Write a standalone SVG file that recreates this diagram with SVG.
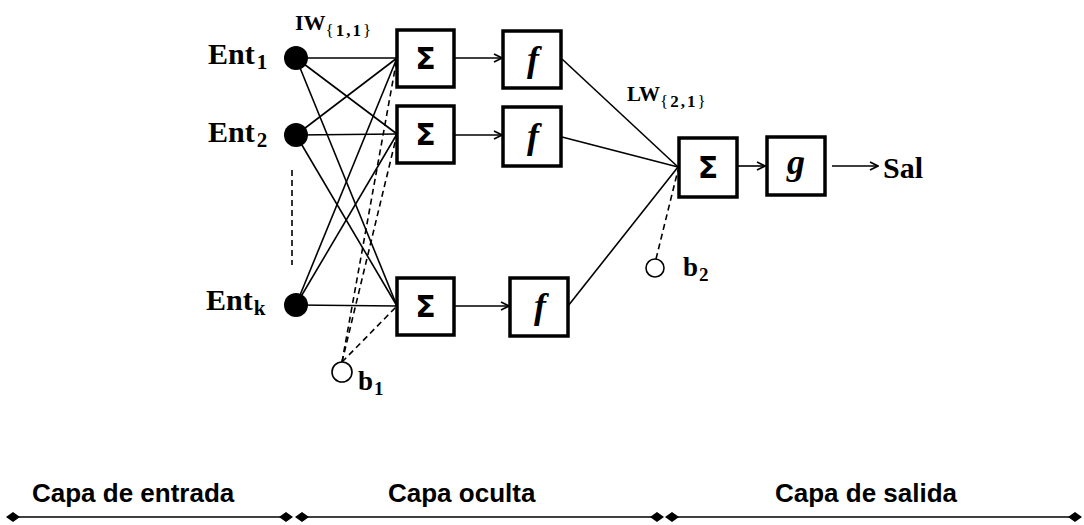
<svg xmlns="http://www.w3.org/2000/svg" width="1084" height="525" viewBox="0 0 1084 525">
<style>
.box{fill:#fff;stroke:#000;stroke-width:3.5}
.ln{stroke:#000;stroke-width:1.6;fill:none}
.dash{stroke:#000;stroke-width:1.6;fill:none;stroke-dasharray:6,4}
.lbl{font-family:"Liberation Serif",serif;font-weight:bold;fill:#000}
.sub{font-weight:normal;letter-spacing:2px}
.sig{font-family:"DejaVu Sans",sans-serif;font-weight:bold;font-size:30px;text-anchor:middle;fill:#000}
.fn{font-family:"Liberation Serif",serif;font-style:italic;font-weight:bold;font-size:36px;text-anchor:middle;fill:#000}
.cap{font-family:"Liberation Sans",Arial,sans-serif;font-weight:bold;font-size:26px;fill:#000}
</style>
<defs>
<marker id="arr" markerWidth="10" markerHeight="10" refX="9" refY="5" orient="auto" markerUnits="userSpaceOnUse">
<path d="M1,1 L9,5 L1,9" fill="none" stroke="#000" stroke-width="1.7"/>
</marker>
<marker id="dia" markerWidth="14" markerHeight="12" refX="7" refY="6" orient="auto" markerUnits="userSpaceOnUse">
<path d="M0,6 L7,1 L14,6 L7,11 Z" fill="#000"/>
</marker>
</defs>

<g id="connectors">
<line class="ln" x1="296" y1="58" x2="397" y2="58"/>
<line class="ln" x1="296" y1="58" x2="397" y2="134"/>
<line class="ln" x1="296" y1="58" x2="397" y2="306"/>
<line class="ln" x1="296" y1="135" x2="397" y2="58"/>
<line class="ln" x1="296" y1="135" x2="397" y2="134"/>
<line class="ln" x1="296" y1="135" x2="397" y2="306"/>
<line class="ln" x1="296" y1="305" x2="397" y2="58"/>
<line class="ln" x1="296" y1="305" x2="397" y2="134"/>
<line class="ln" x1="296" y1="305" x2="397" y2="306"/>
<line class="dash" x1="342" y1="362" x2="397" y2="58"/>
<line class="dash" x1="342" y1="362" x2="397" y2="134"/>
<line class="dash" x1="342" y1="362" x2="397" y2="306"/>
<line class="dash" x1="292" y1="170" x2="292" y2="265"/>
<line class="ln" x1="455" y1="58" x2="502" y2="58" marker-end="url(#arr)"/>
<line class="ln" x1="455" y1="135" x2="502" y2="135" marker-end="url(#arr)"/>
<line class="ln" x1="455" y1="306" x2="509" y2="306" marker-end="url(#arr)"/>
<line class="ln" x1="562" y1="59" x2="678" y2="167"/>
<line class="ln" x1="562" y1="137" x2="678" y2="167"/>
<line class="ln" x1="568" y1="306" x2="678" y2="167"/>
<line class="dash" x1="656" y1="259" x2="678" y2="170"/>
<line class="ln" x1="737" y1="166" x2="765" y2="166" marker-end="url(#arr)"/>
<line class="ln" x1="832" y1="166" x2="878" y2="166" marker-end="url(#arr)"/>
<line class="ln" x1="13" y1="517" x2="286" y2="517" stroke-width="2" marker-start="url(#dia)" marker-end="url(#dia)"/>
<line class="ln" x1="302" y1="517" x2="657" y2="517" stroke-width="2" marker-start="url(#dia)" marker-end="url(#dia)"/>
<line class="ln" x1="672" y1="517" x2="1075" y2="517" stroke-width="2" marker-start="url(#dia)" marker-end="url(#dia)"/>
</g>

<g id="in1"><circle cx="296" cy="58" r="12" fill="#000"/>
<text class="lbl" x="208" y="64" font-size="30">Ent<tspan font-size="21" dx="2" dy="5">1</tspan></text></g>
<g id="in2"><circle cx="296" cy="135" r="12" fill="#000"/>
<text class="lbl" x="208" y="142" font-size="30">Ent<tspan font-size="21" dx="2" dy="5">2</tspan></text></g>
<g id="ink"><circle cx="296" cy="305" r="12" fill="#000"/>
<text class="lbl" x="206" y="310" font-size="30">Ent<tspan font-size="21" dx="1" dy="5">k</tspan></text></g>

<g id="iw"><text class="lbl" x="295" y="30" font-size="22">IW<tspan class="sub" font-size="17" dy="6">{<tspan font-weight="bold">1,1</tspan>}</tspan></text></g>
<g id="lw"><text class="lbl" x="627" y="101" font-size="21">LW<tspan class="sub" font-size="17" dy="6">{<tspan font-weight="bold">2,1</tspan>}</tspan></text></g>

<g id="sum1"><rect class="box" x="397" y="30" width="57" height="57"/><text class="sig" x="425.5" y="69">Σ</text></g>
<g id="sum2"><rect class="box" x="397" y="106" width="57" height="57"/><text class="sig" x="425.5" y="145">Σ</text></g>
<g id="sum3"><rect class="box" x="397" y="278" width="57" height="57"/><text class="sig" x="425.5" y="317">Σ</text></g>

<g id="f1"><rect class="box" x="503" y="31" width="58" height="57"/><text class="fn" x="533" y="71">f</text></g>
<g id="f2"><rect class="box" x="503" y="107" width="58" height="59"/><text class="fn" x="533" y="148">f</text></g>
<g id="f3"><rect class="box" x="510" y="278" width="58" height="58"/><text class="fn" x="540" y="318">f</text></g>

<g id="b1"><circle cx="342" cy="372" r="10" fill="#fff" stroke="#000" stroke-width="1.6"/>
<text class="lbl" x="358" y="390" font-size="27">b<tspan font-size="19" dx="1" dy="5">1</tspan></text></g>

<g id="sumout"><rect class="box" x="679" y="138" width="58" height="59"/><text class="sig" x="708" y="178">Σ</text></g>
<g id="gbox"><rect class="box" x="767" y="137" width="58" height="58"/><text class="fn" x="796" y="174" font-weight="normal">g</text></g>

<g id="b2"><circle cx="655" cy="268" r="9" fill="#fff" stroke="#000" stroke-width="1.6"/>
<text class="lbl" x="683" y="276" font-size="27">b<tspan font-size="19" dx="1" dy="5">2</tspan></text></g>

<g id="sal"><text class="lbl" x="883" y="178" font-size="30">Sal</text></g>

<g id="layers">
<text class="cap" x="32" y="502">Capa de entrada</text>
<text class="cap" x="388" y="502">Capa oculta</text>
<text class="cap" x="775" y="502">Capa de salida</text>
</g>
</svg>
